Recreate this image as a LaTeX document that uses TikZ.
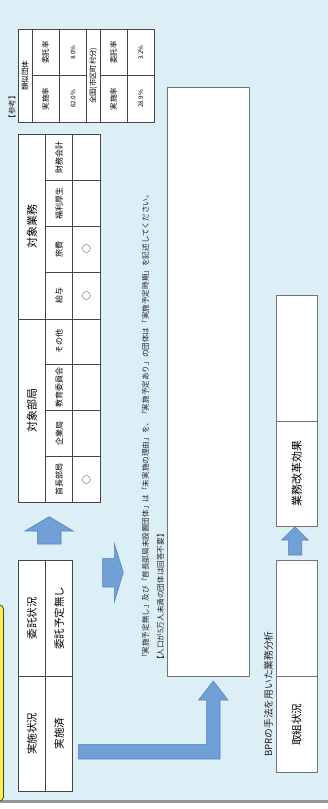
\documentclass[tikz,border=0pt]{standalone}
\usepackage{fontspec}
\setmainfont{Noto Sans CJK JP}
\definecolor{bgc}{RGB}{220,238,246}
\definecolor{linec}{RGB}{70,70,70}
\definecolor{boxc}{RGB}{115,115,115}
\definecolor{arrf}{RGB}{112,160,214}
\definecolor{arrd}{RGB}{88,132,192}
\definecolor{yel}{RGB}{255,240,70}
\definecolor{botc}{RGB}{150,150,150}
\newcommand\fs[1]{\fontsize{#1}{#1}\selectfont}
\newcommand\cellbox[7]{\node[cell,#6,minimum width={(#5-#3)*1pt},minimum height={(#4-#2)*1pt}] (#1) at ({(#2+#4)/2},{(#3+#5)/2}) {#7};}
\tikzset{
  cell/.style={draw=linec, fill=white, line width=0.8pt, rotate=90, inner sep=0pt, outer sep=0pt},
  rtxt/.style={rotate=90, inner sep=0pt, text=black!85},
  barrow/.style={fill=arrf, draw=arrd, line width=0.6pt, line join=miter},
  bigbox/.style={draw=boxc, fill=white, line width=1pt, rotate=90, inner sep=0pt, outer sep=0pt}
}
\begin{document}
\begin{tikzpicture}[x=1pt,y=-1pt]
\useasboundingbox (0,0) rectangle (328,809);
\fill[bgc] (0,0) rectangle (328,800);
\fill[botc] (0,800) rectangle (328,803);
\begin{scope}
\clip (0,0) rectangle (328,809);
\draw[fill=yel, draw=black!75, line width=0.8pt, rounded corners=4pt] (-30,605) rectangle (3.5,801);
\end{scope}

% reference table
\node[rtxt, font=\fs{7.5}] (sanko) at (12,107) {【参考】};
\cellbox{r1}{18.3}{29.3}{32}{122}{font=\fs{7.5}}{類似団体}
\cellbox{r2}{32}{29.3}{59.3}{75.7}{font=\fs{7.5}}{委託率}
\cellbox{r3}{32}{75.7}{59.3}{122}{font=\fs{7.5}}{実施率}
\cellbox{r4}{59.3}{29.3}{86.7}{75.7}{font=\fs{6.3}}{8.0\%}
\cellbox{r5}{59.3}{75.7}{86.7}{122}{font=\fs{6.3}}{62.0\%}
\cellbox{r6}{86.7}{29.3}{100}{122}{font=\fs{7.3}}{全国(市区町村分)}
\cellbox{r7}{100}{29.3}{127.3}{75.7}{font=\fs{7.5}}{委託率}
\cellbox{r8}{100}{75.7}{127.3}{122}{font=\fs{7.5}}{実施率}
\cellbox{r9}{127.3}{29.3}{154.3}{75.7}{font=\fs{6.3}}{3.2\%}
\cellbox{r10}{127.3}{75.7}{154.3}{122}{font=\fs{6.3}}{28.9\%}

% main table
\cellbox{hg}{18.3}{134}{45.7}{319}{font=\fs{11}}{対象業務}
\cellbox{hb}{18.3}{319}{45.7}{502.7}{font=\fs{11}}{対象部局}
\cellbox{l1}{45.7}{134}{72.7}{180}{font=\fs{8}}{財務会計}
\cellbox{l2}{45.7}{180}{72.7}{226}{font=\fs{8}}{福利厚生}
\cellbox{l3}{45.7}{226}{72.7}{272.7}{font=\fs{8}}{旅費}
\cellbox{l4}{45.7}{272.7}{72.7}{319}{font=\fs{8}}{給与}
\cellbox{l5}{45.7}{319}{72.7}{364.7}{font=\fs{8}}{その他}
\cellbox{l6}{45.7}{364.7}{72.7}{410.7}{font=\fs{8}}{教育委員会}
\cellbox{l7}{45.7}{410.7}{72.7}{456.7}{font=\fs{8}}{企業局}
\cellbox{l8}{45.7}{456.7}{72.7}{502.7}{font=\fs{8}}{首長部局}
\cellbox{v1}{72.7}{134}{100}{180}{font=\fs{9}}{}
\cellbox{v2}{72.7}{180}{100}{226}{font=\fs{9}}{}
\cellbox{v3}{72.7}{226}{100}{272.7}{font=\fs{9}}{○}
\cellbox{v4}{72.7}{272.7}{100}{319}{font=\fs{9}}{○}
\cellbox{v5}{72.7}{319}{100}{364.7}{font=\fs{9}}{}
\cellbox{v6}{72.7}{364.7}{100}{410.7}{font=\fs{9}}{}
\cellbox{v7}{72.7}{410.7}{100}{456.7}{font=\fs{9}}{}
\cellbox{v8}{72.7}{456.7}{100}{502.7}{font=\fs{9}}{○}

% left bottom table
\cellbox{s1}{18.3}{560.7}{45.7}{676}{font=\fs{10.5}}{委託状況}
\cellbox{s2}{45.7}{560.7}{72.7}{676}{font=\fs{10.5}}{委託予定無し}
\cellbox{s3}{18.3}{676}{45.7}{791}{font=\fs{10.5}}{実施状況}
\cellbox{s4}{45.7}{676}{72.7}{791}{font=\fs{10.5}}{実施済}

% note box and text
\node[bigbox, minimum width=588.7pt, minimum height=82pt] (note) at (208.3,381.65) {};
\node[rtxt, anchor=west, font=\fs{7.6}] (t1) at (145.5,662) {「実施予定無し」及び「首長部局未設置団体」は「未実施の理由」を、「実施予定あり」の団体は「実施予定時期」を記述してください。};
\node[rtxt, anchor=west, font=\fs{7.6}] (t2) at (160.5,664) {【人口が5万人未満の団体は回答不要】};

% right boxes
\node[bigbox, minimum width=126.7pt, minimum height=41.5pt] (e1) at (296.75,358.35) {};
\node[bigbox, minimum width=104.3pt, minimum height=41.5pt, font=\fs{11}] (e2) at (296.75,473.85) {業務改革効果};
\node[bigbox, minimum width=116pt, minimum height=41.5pt] (g1) at (296.75,618.7) {};
\node[bigbox, minimum width=95.6pt, minimum height=41.5pt, font=\fs{10.5}] (g2) at (296.75,724.5) {取組状況};
\node[rtxt, anchor=west, font=\fs{9.7}] (bpr) at (268.5,757) {BPRの手法を用いた業務分析};

% block arrows
\draw[barrow] (37.3,544) -- (37.3,531) -- (25,531) -- (49.2,516.7) -- (73.3,531) -- (61,531) -- (61,544) -- cycle;
\draw[barrow] (102.7,558.3) -- (114.3,558.3) -- (114.3,543.3) -- (123.3,572.5) -- (114.3,602) -- (114.3,587) -- (102.7,587) -- cycle;
\draw[barrow] (78.3,744.3) -- (206.7,744.3) -- (206.7,700) -- (198.6,700) -- (213.3,681) -- (228,700) -- (220,700) -- (220,759) -- (78.3,759) -- cycle;
\draw[barrow] (288.3,555) -- (288.3,540) -- (281.7,540) -- (295,526.7) -- (308.3,540) -- (301.7,540) -- (301.7,555) -- cycle;
\end{tikzpicture}
\end{document}
